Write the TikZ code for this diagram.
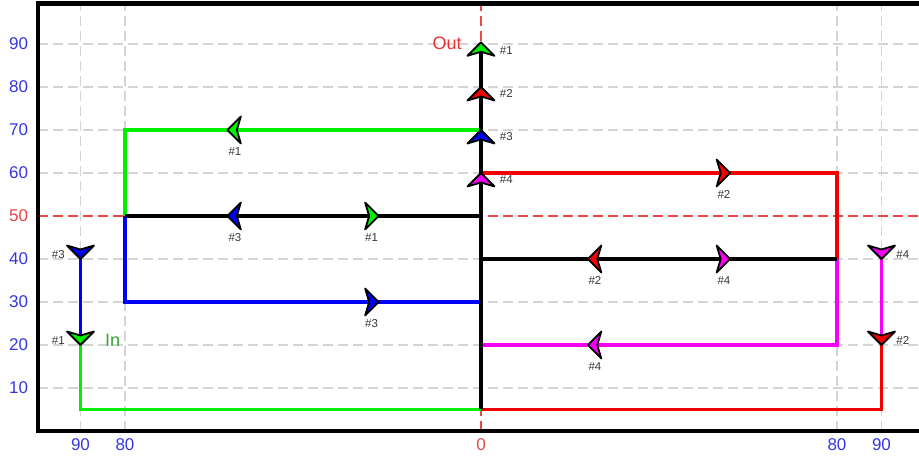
\documentclass[tikz,border=0pt]{standalone}
\usepackage{fontspec}
\setmainfont{Liberation Sans}
\definecolor{gridgray}{RGB}{212,212,212}
\definecolor{axisred}{RGB}{232,72,72}
\definecolor{tickblue}{RGB}{55,55,225}
\definecolor{labgray}{RGB}{55,55,55}
\definecolor{ingreen}{RGB}{50,165,50}
\definecolor{outred}{RGB}{230,50,50}
\definecolor{pgreen}{RGB}{0,240,0}
\definecolor{pred}{RGB}{245,0,0}
\definecolor{pblue}{RGB}{0,0,245}
\definecolor{pmag}{RGB}{245,0,245}

\tikzset{
  gridline/.style={draw=gridgray, line width=1.5pt, dash pattern=on 10pt off 5pt},
  zeroline/.style={draw=axisred, line width=1.4pt, dash pattern=on 10pt off 5pt},
  frameline/.style={draw=black, line width=4.5pt},
  pathline/.style={line width=3.3pt},
  ticklabel/.style={font=\fontsize{17pt}{17pt}\selectfont, text=tickblue, inner sep=0pt},
  tagtext/.style={font=\fontsize{11.5pt}{11.5pt}\selectfont, text=labgray, inner sep=0pt},
  pics/flowtip/.style={code={
    \filldraw[fill=#1, draw=black, line width=1.8pt, line join=round]
      (0,0) -- (-13.5pt,13.5pt) -- (-9.5pt,0) -- (-13.5pt,-13.5pt) -- cycle;}}
}

\begin{document}
\begin{tikzpicture}[x=4.45pt, y=4.3pt]
  \useasboundingbox[fill=white] (-108.09,-6.05) rectangle (98.43,100.23);

  % grid
  \foreach \v in {10,20,30,40,60,70,80,90}
    \draw[gridline] (-99.5,\v) -- (98.43,\v);
  \foreach \u in {-90,-80,80,90}
    \draw[gridline] (\u,0) -- (\u,99.4);
  \draw[zeroline] (-99.5,50) -- (98.43,50);
  \draw[zeroline] (0,0) -- (0,99.4);

  % frame
  \draw[frameline] (98.43,99.4) -- (-99.5,99.4) -- (-99.5,0) -- (98.43,0);

  % corner points of the flow paths
  \coordinate (inA)  at (-90,40);
  \coordinate (inB)  at (-90,20);
  \coordinate (inC)  at (-90,5);
  \coordinate (bot)  at (0,5);
  \coordinate (rB)   at (90,5);
  \coordinate (rC)   at (90,20);
  \coordinate (rD)   at (90,40);
  \coordinate (l70)  at (-80,70);
  \coordinate (l50)  at (-80,50);
  \coordinate (l30)  at (-80,30);
  \coordinate (c70)  at (0,70);
  \coordinate (c60)  at (0,60);
  \coordinate (c50)  at (0,50);
  \coordinate (c40)  at (0,40);
  \coordinate (c30)  at (0,30);
  \coordinate (c20)  at (0,20);
  \coordinate (r60)  at (80,60);
  \coordinate (r40)  at (80,40);
  \coordinate (r20)  at (80,20);
  \coordinate (top)  at (0,90);

  % coloured branches
  \draw[pathline, pgreen] (inB) -- (inC) -- (bot);
  \draw[pathline, pblue]  (inA) -- (inB);
  \draw[pathline, pgreen] (c70) -- (l70) -- (l50);
  \draw[pathline, pblue]  (l50) -- (l30) -- (c30);
  \draw[pathline, pred]   (bot) -- (rB) -- (rC);
  \draw[pathline, pmag]   (rC) -- (rD);
  \draw[pathline, pred]   (c60) -- (r60) -- (r40);
  \draw[pathline, pmag]   (r40) -- (r20) -- (c20);

  % black trunk and cross links
  \draw[pathline, black] (l50) -- (c50);
  \draw[pathline, black] (c40) -- (r40);
  \draw[pathline, black] (bot) -- (top);

  % flow markers
  \pic[rotate=-90] at (inA) {flowtip=pblue};
  \pic[rotate=-90] at (inB) {flowtip=pgreen};
  \pic[rotate=-90] at (rD) {flowtip=pmag};
  \pic[rotate=-90] at (rC) {flowtip=pred};
  \pic[rotate=90] at (0,90.4) {flowtip=pgreen};
  \pic[rotate=90] at (0,80) {flowtip=pred};
  \pic[rotate=90] at (0,70) {flowtip=pblue};
  \pic[rotate=90] at (0,60) {flowtip=pmag};
  \pic[rotate=180] at (-57,70) {flowtip=pgreen};
  \pic[rotate=180] at (-57,50) {flowtip=pblue};
  \pic at (-23,50) {flowtip=pgreen};
  \pic at (-23,30) {flowtip=pblue};
  \pic at (56,60) {flowtip=pred};
  \pic at (56,40) {flowtip=pmag};
  \pic[rotate=180] at (24,40) {flowtip=pred};
  \pic[rotate=180] at (24,20) {flowtip=pmag};

  % marker tags
  \node[tagtext, anchor=east] at (-93.5,41.1) {\#3};
  \node[tagtext, anchor=east] at (-93.5,21.1) {\#1};
  \node[tagtext, anchor=west] at (93.3,41.1) {\#4};
  \node[tagtext, anchor=west] at (93.3,21.1) {\#2};
  \node[tagtext, anchor=west] at (4.2,88.4) {\#1};
  \node[tagtext, anchor=west] at (4.2,78.4) {\#2};
  \node[tagtext, anchor=west] at (4.2,68.4) {\#3};
  \node[tagtext, anchor=west] at (4.2,58.4) {\#4};
  \node[tagtext] at (-55.3,64.9) {\#1};
  \node[tagtext] at (-55.3,44.9) {\#3};
  \node[tagtext] at (-24.6,44.9) {\#1};
  \node[tagtext] at (-24.6,24.9) {\#3};
  \node[tagtext] at (54.6,54.9) {\#2};
  \node[tagtext] at (54.6,34.9) {\#4};
  \node[tagtext] at (25.6,34.9) {\#2};
  \node[tagtext] at (25.6,14.9) {\#4};

  % port names
  \node[font=\fontsize{18pt}{18pt}\selectfont, text=ingreen, anchor=west, inner sep=0pt] at (-84.5,21.2) {In};
  \node[font=\fontsize{18pt}{18pt}\selectfont, text=outred, inner sep=0pt] at (-7.6,90.2) {Out};

  % axis numbers
  \foreach \v in {10,20,30,40,60,70,80,90}
    \node[ticklabel] at (-103.9,\v) {\v};
  \node[ticklabel, text=axisred] at (-103.9,50) {50};
  \node[ticklabel] at (-90,-3.26) {90};
  \node[ticklabel] at (-80,-3.26) {80};
  \node[ticklabel, text=axisred] at (0,-3.26) {0};
  \node[ticklabel] at (80,-3.26) {80};
  \node[ticklabel] at (90,-3.26) {90};
\end{tikzpicture}
\end{document}
